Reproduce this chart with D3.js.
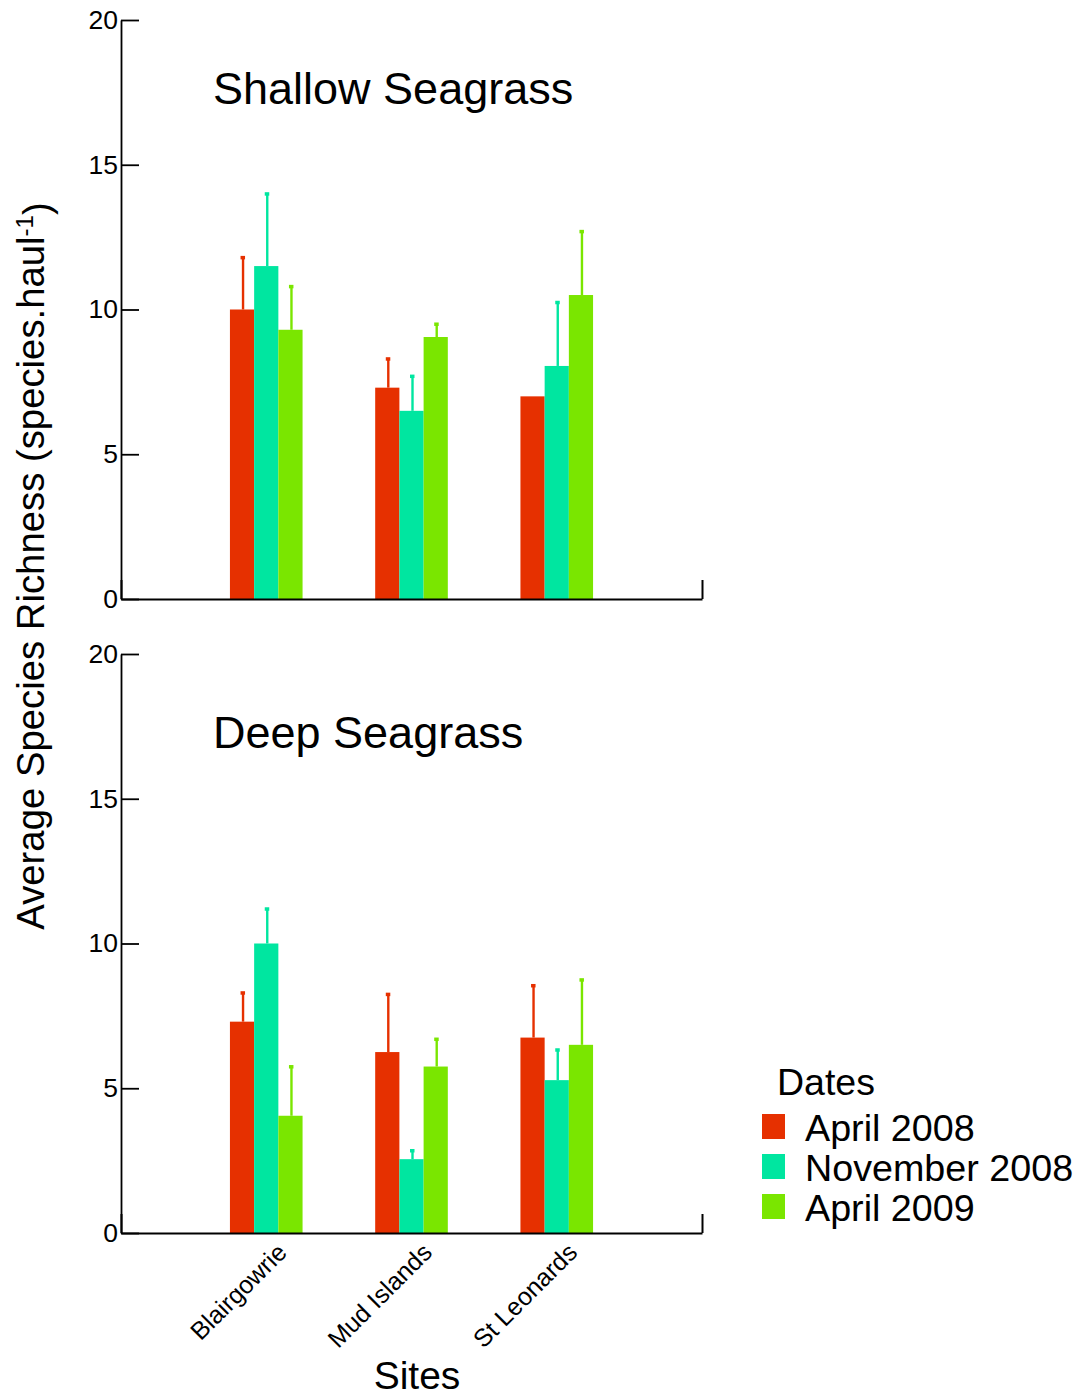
<!DOCTYPE html>
<html>
<head>
<meta charset="utf-8">
<script src="https://cdn.jsdelivr.net/npm/d3@7"></script>
<style>
  body { margin: 0; background: #fff; }
  svg text { font-family: "Liberation Sans", Arial, Helvetica, sans-serif; fill: #000; }
</style>
</head>
<body>
<svg id="chart"></svg>
<script>
// categories and series
var sites = ["Blairgowrie", "Mud Islands", "St Leonards"]
var dates = ["April 2008", "November 2008", "April 2009"]
var dateColours = ["#e63000", "#00e6a0", "#7ae600"]
var yTicks = [0, 5, 10, 15, 20]

// mean richness per site, one value per date
var shallowMeans = [[10.0, 11.5, 9.3], [7.3, 6.5, 9.05], [7.0, 8.05, 10.5]]
var shallowErrors = [[1.8, 2.5, 1.5], [1.0, 1.2, 0.45], [0, 2.2, 2.2]]
var deepMeans = [[7.3, 10.0, 4.05], [6.25, 2.55, 5.75], [6.75, 5.28, 6.5]]
var deepErrors = [[1.0, 1.2, 1.7], [2.0, 0.3, 0.95], [1.8, 1.05, 2.25]]

var width = 1082
var height = 1398

var svg = d3.select("#chart").attr("width", width).attr("height", height)

var xScale = d3.scaleLinear().domain([0, 4]).range([121, 702])
var barWidth = (xScale(1) - xScale(0)) / 6

function drawPanel(title, means, errors, top, bottom, titleY) {
  var yScale = d3.scaleLinear().domain([0, 20]).range([bottom, top])
  var g = svg.append("g")

  // flatten into one record per bar
  var bars = []
  means.forEach((row, s) => row.forEach((v, i) => {
    bars.push({site: s + 1, date: i, value: v, err: errors[s][i]})
  }))

  // error bars (upper only)
  var eb = g.selectAll(".err").data(bars.filter(d => d.err > 0)).enter().append("g")
  eb.append("line")
    .attr("x1", d => xScale(d.site) + (d.date - 1) * barWidth + 1)
    .attr("x2", d => xScale(d.site) + (d.date - 1) * barWidth + 1)
    .attr("y1", d => yScale(d.value))
    .attr("y2", d => yScale(d.value + d.err))
    .attr("stroke", d => dateColours[d.date])
    .attr("stroke-width", 2.4)
  eb.append("rect")
    .attr("x", d => xScale(d.site) + (d.date - 1) * barWidth - 1.5)
    .attr("y", d => yScale(d.value + d.err) - 1.5)
    .attr("width", 4.5)
    .attr("height", 3.5)
    .attr("fill", d => dateColours[d.date])

  g.selectAll(".bar").data(bars).enter().append("rect")
    .attr("x", d => xScale(d.site) + (d.date - 1.5) * barWidth)
    .attr("width", barWidth)
    .attr("y", d => yScale(d.value))
    .attr("height", d => yScale(0) - yScale(d.value))
    .attr("fill", d => dateColours[d.date])

  var yAxis = d3.axisLeft(yScale).tickValues(yTicks).tickSizeInner(-18).tickSizeOuter(0).tickPadding(3)
  var ya = g.append("g").attr("transform", "translate(121,0)").call(yAxis)
  ya.selectAll("text").style("font-size", "26.5px").attr("font-family", null)
  ya.selectAll("line, path").attr("stroke", "#000").attr("stroke-width", 1.8)

  var xAxis = d3.axisBottom(xScale).tickValues([0, 4]).tickSizeInner(-19).tickSizeOuter(0).tickFormat("")
  var xa = g.append("g").attr("transform", `translate(0,${bottom})`).call(xAxis)
  xa.selectAll("line, path").attr("stroke", "#000").attr("stroke-width", 2)

  g.append("text")
    .attr("x", 213)
    .attr("y", titleY)
    .style("font-size", "45px")
    .text(title)

  return yScale
}

drawPanel("Shallow Seagrass", shallowMeans, shallowErrors, 20, 599, 104)
drawPanel("Deep Seagrass", deepMeans, deepErrors, 654, 1233, 748)

// site labels under the lower panel
svg.selectAll(".site").data(sites).enter().append("text")
  .attr("transform", (d, i) => `translate(${xScale(i + 1) + 22},${1233 + 21}) rotate(-45)`)
  .attr("text-anchor", "end")
  .style("font-size", "25px")
  .text(d => d)

svg.append("text")
  .attr("x", 417)
  .attr("y", 1389)
  .attr("text-anchor", "middle")
  .style("font-size", "39px")
  .text("Sites")

// y axis title
var yTitle = svg.append("text")
  .attr("transform", "translate(44,566) rotate(-90)")
  .attr("text-anchor", "middle")
  .style("font-size", "38.3px")
yTitle.append("tspan").text("Average Species Richness (species.haul")
yTitle.append("tspan").attr("dy", "-0.45em").style("font-size", "24px").text("-1")
yTitle.append("tspan").attr("dy", "0.45em").text(")")

// legend
var legend = svg.append("g")
legend.append("text").attr("x", 777).attr("y", 1095).style("font-size", "37.5px").text("Dates")
var items = legend.selectAll(".item").data(dates).enter().append("g")
items.append("rect")
  .attr("x", 762)
  .attr("y", (d, i) => 1114 + i * 40)
  .attr("width", 23)
  .attr("height", 25)
  .attr("fill", (d, i) => dateColours[i])
items.append("text")
  .attr("x", 805)
  .attr("y", (d, i) => 1141 + i * 40)
  .style("font-size", "37.7px")
  .text(d => d)
</script>
</body>
</html>
